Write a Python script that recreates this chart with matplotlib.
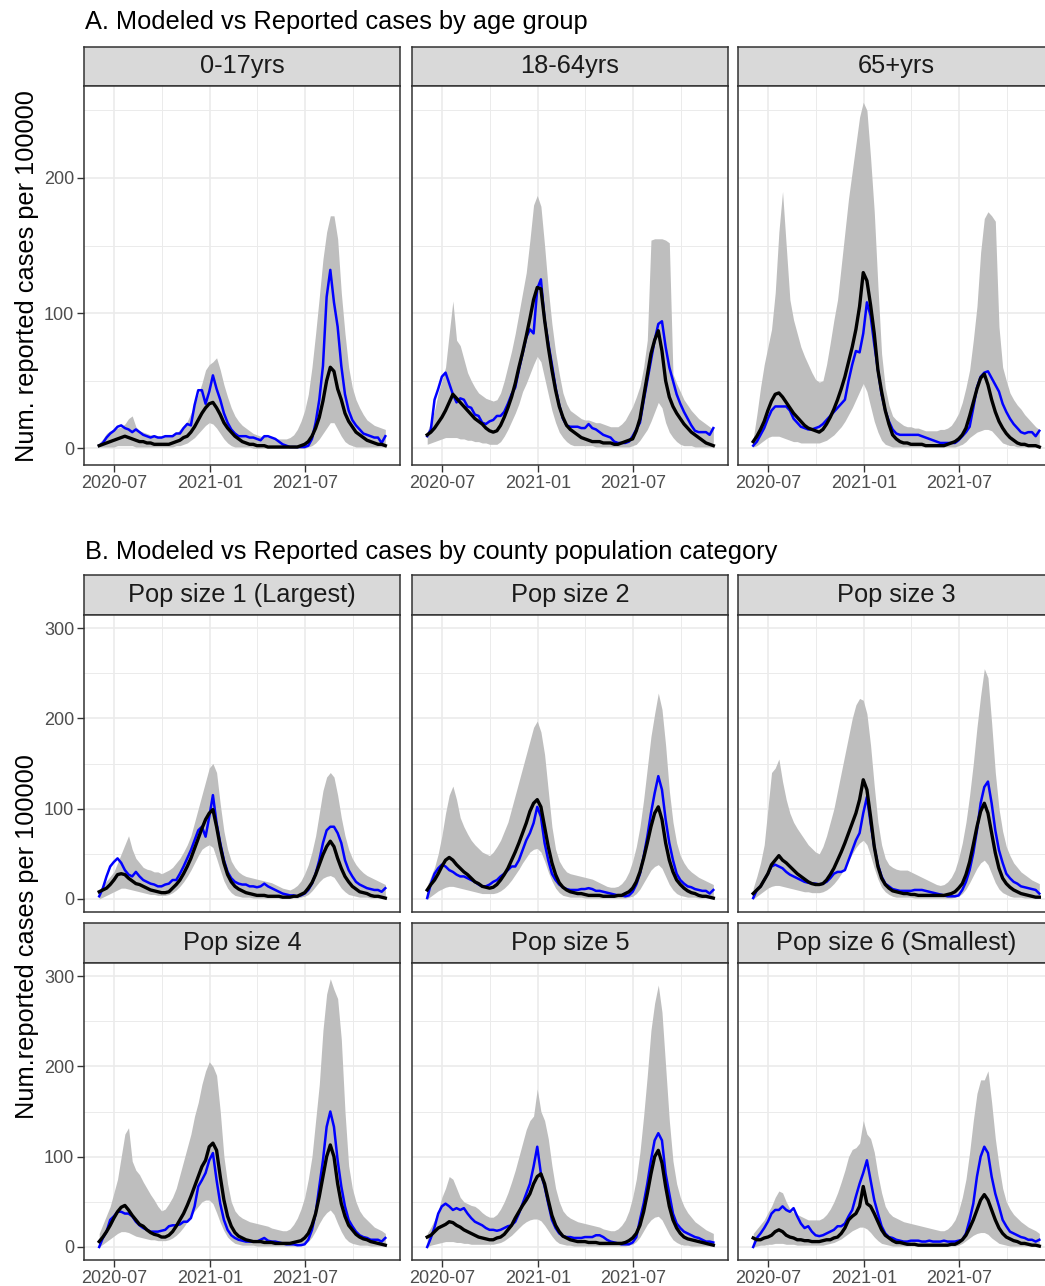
import matplotlib
matplotlib.use("Agg")
import matplotlib.pyplot as plt
import matplotlib.dates as mdates
import pandas as pd

plt.rcParams.update({
    "font.family": ["Liberation Sans", "DejaVu Sans"],
    "font.size": 13,
})

# -----------------------------
# Data (weekly)
# -----------------------------
dates = pd.date_range("2020-06-03", periods=79, freq="7D")

# A. age groups: reported (blue), modeled mean (black), ensemble hi / lo (grey)
rep_0_17 = [2, 4, 8, 11, 13, 16, 17, 15, 14, 12,
            14, 12, 10, 9, 8, 9, 8, 8, 9, 9,
            9, 11, 11, 15, 18, 17, 32, 43, 43, 33,
            42, 54, 44, 36, 26, 19, 14, 11, 9, 9,
            9, 8, 8, 7, 6, 9, 9, 8, 7, 5,
            3, 2, 1, 1, 1, 1, 1, 2, 7, 19,
            36, 61, 112, 132, 108, 90, 61, 40, 28, 21,
            17, 14, 11, 10, 9, 8, 8, 4, 9]
mod_0_17 = [2, 3, 4, 5, 6, 7, 8, 9, 8, 7,
            6, 5, 5, 4, 4, 3, 3, 3, 3, 3,
            4, 5, 6, 8, 9, 12, 16, 21, 26, 30,
            33, 34, 30, 25, 19, 15, 12, 9, 7, 5,
            4, 3, 3, 2, 2, 2, 1, 1, 1, 1,
            1, 1, 1, 1, 1, 2, 3, 5, 9, 15,
            23, 35, 50, 60, 57, 44, 36, 26, 20, 16,
            12, 10, 8, 6, 5, 4, 3, 3, 2]
hi_0_17 = [4, 7, 11, 13, 14, 15, 16, 18, 22, 24,
           16, 13, 12, 11, 10, 10, 9, 9, 9, 9,
           10, 11, 14, 17, 20, 26, 32, 40, 48, 58,
           62, 64, 67, 58, 47, 38, 30, 24, 20, 17,
           15, 13, 11, 10, 9, 9, 8, 8, 7, 7,
           7, 7, 8, 10, 14, 20, 28, 40, 60, 85,
           112, 140, 160, 172, 172, 155, 115, 85, 60, 45,
           36, 30, 25, 21, 19, 17, 16, 15, 14]
lo_0_17 = [1, 1, 1, 1, 1, 2, 2, 2, 2, 2,
           1, 1, 1, 1, 1, 1, 1, 1, 1, 1,
           1, 2, 2, 3, 4, 6, 8, 11, 14, 17,
           19, 18, 15, 11, 7, 4, 2, 1, 1, 1,
           1, 1, 0, 0, 0, 0, 0, 0, 0, 0,
           0, 0, 0, 0, 0, 0, 0, 1, 2, 4,
           7, 11, 15, 19, 19, 14, 9, 5, 3, 2,
           1, 1, 1, 1, 1, 1, 1, 1, 1]

rep_18_64 = [9, 14, 36, 44, 53, 56, 48, 40, 34, 37,
             36, 31, 30, 25, 24, 19, 18, 20, 21, 24,
             24, 27, 33, 40, 45, 58, 70, 82, 88, 85,
             118, 125, 95, 78, 62, 45, 32, 22, 17, 16,
             16, 16, 15, 15, 18, 15, 14, 12, 10, 9,
             8, 5, 4, 4, 4, 5, 9, 14, 19, 35,
             50, 65, 80, 92, 94, 75, 60, 50, 40, 33,
             27, 22, 17, 13, 12, 12, 12, 10, 15]
mod_18_64 = [10, 12, 15, 19, 23, 28, 34, 40, 37, 34,
             31, 28, 25, 22, 20, 18, 15, 13, 12, 13,
             17, 23, 30, 38, 48, 60, 71, 83, 96, 110,
             119, 118, 95, 75, 58, 43, 31, 23, 17, 14,
             12, 10, 8, 7, 6, 5, 5, 5, 4, 4,
             4, 3, 3, 4, 5, 6, 7, 13, 22, 38,
             54, 70, 80, 87, 72, 50, 38, 31, 26, 22,
             18, 15, 12, 10, 8, 6, 4, 3, 2]
hi_18_64 = [12, 20, 28, 41, 50, 60, 85, 109, 80, 76,
            66, 56, 50, 45, 41, 39, 37, 36, 35, 36,
            41, 50, 61, 72, 85, 100, 115, 130, 154, 180,
            187, 179, 150, 118, 92, 71, 55, 41, 33, 28,
            26, 24, 22, 21, 21, 20, 19, 19, 18, 17,
            16, 16, 16, 18, 21, 26, 31, 38, 46, 60,
            80, 154, 155, 155, 155, 154, 152, 55, 48, 42,
            36, 32, 28, 25, 22, 20, 18, 16, 14]
lo_18_64 = [3, 4, 5, 6, 7, 8, 8, 8, 8, 7,
            7, 6, 6, 5, 5, 4, 4, 3, 3, 3,
            5, 9, 14, 20, 26, 33, 42, 48, 55, 62,
            68, 64, 52, 40, 28, 19, 12, 8, 5, 3,
            2, 2, 2, 2, 2, 2, 1, 1, 1, 1,
            1, 1, 1, 1, 1, 1, 2, 3, 6, 10,
            14, 20, 27, 34, 30, 19, 12, 8, 5, 3,
            2, 2, 2, 1, 1, 1, 1, 1, 1]

rep_65 = [2, 5, 10, 15, 22, 28, 31, 31, 31, 31,
          28, 22, 19, 16, 15, 14, 14, 15, 16, 18,
          21, 24, 27, 30, 33, 36, 50, 62, 72, 71,
          85, 108, 98, 77, 58, 40, 28, 20, 14, 11,
          10, 10, 10, 10, 10, 10, 9, 8, 7, 6,
          5, 4, 4, 4, 4, 4, 6, 9, 12, 16,
          30, 45, 53, 56, 57, 52, 47, 42, 33, 27,
          22, 18, 15, 12, 11, 12, 12, 9, 13]
mod_65 = [5, 9, 14, 20, 28, 35, 40, 41, 38, 34,
          30, 26, 23, 20, 17, 15, 14, 13, 12, 14,
          18, 23, 29, 36, 44, 53, 64, 75, 88, 105,
          130, 124, 106, 85, 58, 42, 28, 18, 10, 7,
          5, 4, 4, 3, 3, 3, 3, 2, 2, 2,
          2, 2, 2, 3, 4, 5, 7, 10, 15, 24,
          34, 44, 52, 55, 47, 36, 27, 20, 15, 11,
          8, 6, 4, 3, 3, 2, 2, 2, 1]
hi_65 = [7, 25, 45, 62, 75, 88, 115, 160, 190, 150,
         110, 95, 85, 75, 68, 62, 56, 51, 49, 50,
         62, 78, 95, 110, 135, 160, 185, 205, 225, 245,
         256, 250, 215, 175, 120, 70, 45, 32, 24, 21,
         19, 17, 16, 16, 15, 15, 14, 13, 13, 13,
         13, 14, 14, 15, 17, 21, 26, 34, 45, 58,
         80, 105, 145, 170, 175, 172, 168, 90, 60, 50,
         41, 36, 32, 29, 25, 22, 19, 16, 14]
lo_65 = [1, 2, 4, 6, 8, 9, 9, 9, 8, 7,
         6, 5, 5, 4, 4, 4, 4, 4, 4, 5,
         6, 8, 10, 13, 16, 20, 25, 30, 36, 42,
         48, 42, 31, 20, 12, 6, 3, 2, 1, 1,
         1, 1, 1, 1, 1, 1, 1, 1, 1, 1,
         1, 1, 1, 1, 1, 1, 2, 3, 5, 8,
         10, 12, 13, 14, 14, 13, 10, 7, 4, 3,
         2, 2, 1, 1, 1, 1, 1, 1, 1]

# B. county population categories
rep_pop1 = [3, 12, 25, 36, 41, 45, 40, 32, 27, 25,
            30, 25, 21, 19, 17, 16, 14, 14, 16, 17,
            21, 21, 28, 36, 45, 54, 65, 76, 80, 69,
            91, 115, 84, 62, 43, 30, 23, 19, 17, 16,
            16, 14, 14, 13, 14, 17, 14, 12, 10, 8,
            6, 5, 4, 4, 3, 4, 6, 10, 17, 28,
            43, 62, 76, 80, 80, 73, 62, 43, 32, 25,
            19, 16, 14, 12, 11, 10, 10, 8, 12]
mod_pop1 = [8, 10, 12, 16, 21, 27, 28, 27, 23, 20,
            17, 16, 14, 12, 10, 9, 8, 7, 7, 8,
            12, 16, 21, 28, 36, 45, 56, 67, 78, 88,
            95, 99, 80, 58, 40, 27, 19, 14, 11, 9,
            7, 6, 5, 4, 4, 4, 3, 3, 3, 3,
            2, 2, 2, 3, 3, 5, 7, 12, 18, 27,
            38, 49, 58, 64, 58, 45, 34, 25, 19, 14,
            11, 8, 7, 6, 4, 3, 3, 2, 1]
hi_pop1 = [10, 15, 20, 25, 30, 40, 50, 60, 70, 55,
           45, 40, 35, 33, 32, 30, 30, 28, 30, 32,
           35, 40, 45, 52, 60, 70, 85, 100, 115, 130,
           145, 150, 140, 105, 75, 55, 42, 35, 30, 27,
           25, 24, 23, 22, 21, 20, 19, 18, 16, 14,
           12, 11, 10, 12, 15, 20, 28, 38, 52, 70,
           95, 120, 135, 140, 135, 115, 90, 70, 55, 45,
           38, 33, 29, 26, 24, 22, 20, 18, 16]
lo_pop1 = [0, 2, 4, 6, 8, 10, 12, 12, 11, 10,
           9, 8, 7, 6, 5, 5, 4, 4, 4, 5,
           7, 10, 14, 19, 25, 32, 40, 48, 55, 58,
           60, 57, 45, 32, 20, 12, 7, 4, 3, 2,
           2, 2, 1, 1, 1, 1, 1, 1, 1, 1,
           1, 1, 1, 1, 1, 2, 3, 5, 9, 14,
           19, 23, 25, 26, 24, 18, 12, 8, 5, 4,
           3, 2, 2, 2, 1, 1, 1, 1, 1]

rep_pop2 = [1, 17, 28, 34, 38, 36, 32, 30, 27, 25,
            25, 23, 21, 19, 16, 14, 14, 16, 19, 21,
            25, 28, 32, 36, 36, 43, 54, 65, 73, 84,
            102, 91, 62, 43, 28, 21, 16, 13, 11, 10,
            10, 10, 11, 11, 12, 11, 9, 9, 8, 7,
            6, 5, 4, 4, 3, 4, 8, 16, 28, 47,
            69, 95, 117, 136, 121, 88, 62, 43, 28, 21,
            17, 14, 13, 11, 10, 9, 9, 6, 10]
mod_pop2 = [10, 16, 21, 28, 36, 43, 46, 43, 38, 34,
            30, 27, 23, 19, 17, 14, 13, 12, 13, 16,
            21, 27, 34, 43, 52, 62, 73, 84, 97, 106,
            110, 102, 80, 58, 40, 27, 18, 13, 10, 8,
            7, 6, 6, 5, 4, 4, 4, 4, 3, 3,
            3, 3, 4, 4, 6, 8, 12, 19, 30, 45,
            62, 80, 95, 102, 88, 62, 43, 30, 21, 16,
            12, 9, 7, 6, 4, 3, 3, 2, 1]
hi_pop2 = [15, 25, 35, 50, 70, 95, 115, 125, 110, 90,
           80, 72, 65, 60, 56, 52, 50, 48, 52, 58,
           65, 75, 85, 100, 115, 130, 145, 160, 175, 190,
           197, 185, 160, 120, 80, 55, 42, 35, 30, 28,
           27, 26, 25, 24, 23, 22, 20, 18, 16, 14,
           13, 13, 14, 17, 22, 30, 42, 58, 80, 110,
           145, 180, 205, 228, 210, 170, 120, 85, 62, 48,
           40, 34, 30, 27, 24, 22, 20, 18, 16]
lo_pop2 = [0, 3, 6, 9, 11, 13, 14, 14, 13, 12,
           11, 10, 9, 8, 7, 6, 6, 6, 6, 7,
           9, 12, 16, 21, 27, 33, 40, 46, 52, 55,
           56, 52, 42, 30, 20, 12, 7, 4, 3, 2,
           2, 2, 2, 1, 1, 1, 1, 1, 1, 1,
           1, 1, 1, 1, 1, 2, 3, 6, 11, 18,
           25, 32, 36, 38, 34, 25, 16, 10, 6, 4,
           3, 2, 2, 2, 1, 1, 1, 1, 1]

rep_pop3 = [1, 10, 14, 21, 28, 36, 38, 36, 34, 30,
            27, 25, 23, 21, 19, 18, 17, 17, 16, 17,
            19, 23, 28, 30, 30, 32, 43, 54, 65, 73,
            95, 113, 84, 58, 38, 25, 17, 14, 11, 10,
            9, 9, 9, 9, 10, 10, 10, 9, 8, 7,
            6, 5, 4, 3, 3, 3, 4, 10, 19, 32,
            51, 76, 106, 124, 130, 106, 76, 54, 40, 28,
            23, 19, 17, 14, 13, 12, 11, 10, 6]
mod_pop3 = [6, 10, 14, 21, 28, 38, 43, 48, 43, 40,
            36, 32, 28, 25, 22, 19, 17, 16, 16, 17,
            21, 27, 34, 43, 52, 62, 73, 84, 95, 110,
            132, 121, 91, 58, 36, 23, 16, 12, 9, 8,
            7, 6, 6, 5, 5, 4, 4, 4, 4, 4,
            4, 4, 4, 5, 6, 8, 12, 17, 27, 41,
            60, 80, 97, 106, 95, 73, 51, 34, 23, 17,
            13, 10, 8, 6, 5, 4, 3, 2, 2]
hi_pop3 = [12, 25, 40, 60, 100, 140, 145, 155, 130, 110,
           95, 85, 78, 72, 66, 60, 56, 52, 50, 58,
           70, 85, 100, 120, 140, 160, 180, 200, 215, 222,
           220, 205, 170, 125, 85, 60, 45, 38, 35, 33,
           32, 32, 32, 30, 28, 26, 24, 22, 20, 18,
           16, 15, 16, 19, 24, 32, 45, 62, 85, 115,
           150, 190, 225, 255, 245, 195, 140, 100, 75, 58,
           48, 40, 35, 30, 27, 24, 21, 19, 17]
lo_pop3 = [0, 3, 6, 9, 12, 14, 15, 15, 14, 13,
           12, 11, 10, 9, 8, 8, 7, 7, 7, 8,
           10, 13, 17, 22, 28, 35, 42, 50, 57, 62,
           65, 60, 48, 34, 22, 13, 8, 5, 3, 2,
           2, 2, 2, 2, 1, 1, 1, 1, 1, 1,
           1, 1, 1, 1, 1, 2, 3, 6, 11, 18,
           26, 34, 40, 43, 38, 28, 18, 11, 7, 5,
           3, 2, 2, 2, 1, 1, 1, 1, 1]

rep_pop4 = [0, 10, 17, 30, 34, 39, 39, 37, 37, 34,
            28, 24, 21, 19, 17, 17, 17, 18, 19, 23,
            24, 24, 25, 28, 28, 32, 45, 67, 74, 82,
            96, 104, 74, 48, 30, 19, 13, 10, 8, 7,
            6, 6, 6, 6, 8, 10, 7, 6, 6, 5,
            4, 3, 3, 3, 2, 2, 3, 8, 19, 37,
            67, 96, 133, 150, 133, 96, 67, 45, 30, 23,
            17, 13, 11, 10, 8, 8, 8, 6, 10]
mod_pop4 = [6, 11, 17, 24, 32, 39, 44, 46, 41, 35,
            30, 25, 23, 19, 16, 14, 13, 11, 11, 13,
            17, 23, 30, 37, 46, 56, 67, 78, 89, 96,
            111, 115, 107, 78, 52, 34, 23, 16, 12, 10,
            8, 7, 6, 6, 6, 5, 5, 5, 4, 4,
            4, 4, 4, 5, 6, 7, 10, 15, 24, 37,
            56, 78, 100, 113, 100, 70, 48, 34, 24, 19,
            14, 11, 9, 8, 6, 5, 4, 3, 2]
hi_pop4 = [15, 25, 35, 45, 60, 75, 100, 125, 132, 95,
           85, 80, 72, 65, 58, 52, 45, 40, 42, 48,
           55, 65, 80, 95, 110, 125, 145, 160, 180, 195,
           205, 200, 190, 150, 100, 70, 50, 40, 35, 32,
           30, 28, 27, 26, 25, 24, 23, 21, 20, 19,
           18, 18, 20, 25, 32, 42, 55, 75, 100, 140,
           180, 240, 280, 297, 285, 275, 230, 150, 90, 65,
           50, 40, 34, 30, 26, 22, 20, 18, 15]
lo_pop4 = [0, 3, 6, 9, 12, 15, 17, 17, 16, 14,
           12, 11, 10, 9, 8, 8, 7, 7, 7, 8,
           10, 13, 17, 22, 28, 34, 40, 45, 50, 52,
           52, 48, 38, 27, 18, 11, 7, 4, 3, 2,
           2, 2, 2, 1, 1, 1, 1, 1, 1, 1,
           1, 1, 1, 1, 1, 2, 3, 6, 11, 18,
           26, 33, 38, 41, 36, 26, 17, 10, 6, 4,
           3, 2, 2, 2, 1, 1, 1, 1, 1]

rep_pop5 = [0, 10, 22, 37, 45, 48, 45, 41, 43, 41,
            43, 37, 32, 28, 26, 24, 21, 19, 19, 18,
            19, 21, 23, 24, 28, 37, 48, 59, 70, 89,
            111, 81, 67, 48, 30, 21, 15, 12, 11, 11,
            10, 10, 10, 11, 11, 11, 13, 13, 11, 8,
            6, 5, 4, 3, 3, 3, 5, 11, 30, 48,
            70, 96, 118, 126, 118, 81, 59, 37, 26, 21,
            17, 15, 13, 11, 10, 8, 6, 6, 5]
mod_pop5 = [11, 13, 17, 21, 23, 25, 28, 27, 24, 22,
            19, 17, 15, 13, 11, 10, 9, 8, 8, 10,
            11, 14, 19, 24, 32, 39, 46, 52, 59, 70,
            78, 81, 70, 52, 35, 24, 17, 12, 10, 8,
            7, 6, 6, 6, 5, 5, 5, 4, 4, 4,
            4, 4, 4, 4, 5, 7, 10, 15, 24, 39,
            59, 81, 100, 107, 93, 67, 45, 30, 21, 15,
            11, 9, 8, 7, 6, 5, 4, 3, 2]
hi_pop5 = [15, 22, 30, 40, 55, 65, 78, 75, 65, 55,
           50, 48, 46, 45, 42, 38, 35, 33, 33, 36,
           42, 50, 60, 72, 85, 100, 115, 130, 140, 145,
           175, 150, 140, 120, 90, 65, 50, 40, 35, 32,
           30, 28, 27, 26, 25, 24, 23, 22, 20, 19,
           18, 18, 20, 24, 30, 40, 55, 75, 105, 145,
           190, 240, 270, 290, 260, 200, 140, 95, 70, 55,
           45, 38, 33, 28, 25, 22, 19, 17, 15]
lo_pop5 = [0, 2, 3, 4, 5, 6, 6, 6, 5, 5,
           4, 4, 3, 3, 3, 3, 3, 3, 3, 4,
           5, 7, 10, 13, 17, 21, 25, 28, 30, 31,
           31, 29, 24, 18, 12, 7, 4, 3, 2, 2,
           1, 1, 1, 1, 1, 1, 1, 1, 1, 1,
           1, 1, 1, 1, 1, 2, 3, 6, 11, 18,
           25, 30, 33, 34, 30, 22, 14, 8, 5, 3,
           2, 2, 1, 1, 1, 1, 1, 1, 1]

rep_pop6 = [0, 10, 15, 21, 28, 37, 41, 41, 45, 41,
            39, 43, 34, 26, 21, 23, 17, 13, 12, 13,
            15, 17, 19, 23, 23, 26, 34, 41, 56, 70,
            82, 96, 74, 52, 37, 23, 15, 11, 10, 8,
            7, 6, 6, 7, 7, 7, 6, 6, 7, 6,
            6, 6, 7, 6, 6, 6, 7, 8, 15, 30,
            48, 78, 100, 111, 104, 78, 59, 45, 30, 23,
            17, 15, 13, 11, 10, 8, 8, 6, 8]
mod_pop6 = [10, 8, 8, 10, 11, 13, 17, 19, 17, 13,
            11, 10, 8, 8, 7, 7, 6, 6, 6, 7,
            8, 8, 10, 11, 15, 21, 30, 34, 37, 45,
            67, 48, 45, 37, 28, 19, 13, 10, 7, 5,
            5, 4, 3, 3, 3, 2, 2, 2, 2, 2,
            2, 2, 2, 2, 3, 3, 5, 8, 13, 21,
            30, 41, 52, 58, 52, 41, 30, 21, 15, 11,
            9, 7, 6, 4, 4, 3, 2, 2, 1]
hi_pop6 = [15, 20, 25, 30, 38, 45, 55, 62, 60, 50,
           42, 38, 36, 34, 32, 30, 30, 30, 30, 32,
           36, 42, 50, 60, 72, 85, 100, 108, 110, 115,
           140, 125, 120, 105, 80, 60, 45, 38, 34, 32,
           30, 28, 27, 26, 25, 24, 23, 22, 21, 20,
           19, 18, 18, 20, 24, 30, 40, 55, 75, 105,
           140, 170, 185, 185, 195, 160, 120, 90, 65, 50,
           42, 36, 32, 28, 25, 22, 20, 18, 15]
lo_pop6 = [0, 1, 2, 2, 3, 3, 4, 4, 4, 3,
           3, 3, 2, 2, 2, 2, 2, 2, 2, 2,
           3, 4, 5, 7, 9, 12, 15, 18, 20, 22,
           22, 20, 16, 11, 7, 4, 3, 2, 1, 1,
           1, 1, 1, 1, 1, 1, 1, 1, 1, 1,
           1, 1, 1, 1, 1, 1, 2, 4, 7, 10,
           13, 15, 16, 16, 14, 10, 7, 4, 3, 2,
           1, 1, 1, 1, 1, 1, 1, 1, 1]

age_labels = ["0-17yrs", "18-64yrs", "65+yrs"]
pop_labels = ["Pop size 1 (Largest)", "Pop size 2", "Pop size 3",
              "Pop size 4", "Pop size 5", "Pop size 6 (Smallest)"]

# -----------------------------
# Layout (pixels)
# -----------------------------
W, H = 1045, 1286
fig = plt.figure(figsize=(W / 100, H / 100), dpi=100)
fig.patch.set_facecolor("white")

col_x = [84, 412, 738]
panel_w = 316

grey_c = "#BEBEBE"
border_c = "#333333"
grid_c = "#EBEBEB"
strip_c = "#D9D9D9"

x_lim = mdates.date2num([pd.Timestamp("2020-05-05"), pd.Timestamp("2021-12-29")])
major_x = mdates.date2num(pd.to_datetime(["2020-07-01", "2021-01-01", "2021-07-01"]))
minor_x = mdates.date2num(pd.to_datetime(["2020-10-01", "2021-04-01", "2021-10-01"]))


def px_axes(x0, y0, x1, y1):
    return fig.add_axes([x0 / W, 1 - y1 / H, (x1 - x0) / W, (y1 - y0) / H])


def add_strip(x0, y0, x1, y1, label):
    s = px_axes(x0, y0, x1, y1)
    s.set_facecolor(strip_c)
    s.set_xticks([])
    s.set_yticks([])
    for sp in s.spines.values():
        sp.set_color(border_c)
        sp.set_linewidth(1.1)
    s.text(0.5, 0.5, label, ha="center", va="center", fontsize=18.3,
           color="#1A1A1A", transform=s.transAxes)


def add_panel(x0, y0, x1, y1, rep, mod, hi, lo, ylim, yt, yminor,
              show_x, show_y):
    ax = px_axes(x0, y0, x1, y1)
    ax.set_facecolor("white")
    ax.set_xlim(*x_lim)
    ax.set_ylim(*ylim)
    ax.set_xticks(major_x)
    ax.set_xticks(minor_x, minor=True)
    ax.set_yticks(yt)
    ax.set_yticks(yminor, minor=True)
    ax.grid(True, which="major", color=grid_c, linewidth=1.2, zorder=0)
    ax.grid(True, which="minor", color=grid_c, linewidth=0.7, zorder=0)
    ax.set_axisbelow(True)

    ax.fill_between(dates, lo, hi, color=grey_c, linewidth=0, zorder=2)
    ax.plot(dates, rep, color="#0000FF", linewidth=1.8, zorder=3)
    ax.plot(dates, mod, color="black", linewidth=2.4, zorder=4)

    for sp in ax.spines.values():
        sp.set_color(border_c)
        sp.set_linewidth(1.1)
    ax.tick_params(which="both", length=0)
    ax.tick_params(which="major", colors=border_c, labelcolor="#4D4D4D",
                   labelsize=13, width=1.0, pad=2)
    if show_x:
        ax.xaxis.set_major_formatter(mdates.DateFormatter("%Y-%m"))
        ax.tick_params(axis="x", which="major", length=5)
    else:
        ax.tick_params(axis="x", labelbottom=False)
    if show_y:
        ax.tick_params(axis="y", which="major", length=5)
    else:
        ax.tick_params(axis="y", labelleft=False)
    return ax


# -----------------------------
# A. age groups
# -----------------------------
fig.text(85 / W, 1 - 22 / H, "A. Modeled vs Reported cases by age group",
         ha="left", va="center", fontsize=18.3, color="black")

age_series = [
    (rep_0_17, mod_0_17, hi_0_17, lo_0_17),
    (rep_18_64, mod_18_64, hi_18_64, lo_18_64),
    (rep_65, mod_65, hi_65, lo_65),
]
for i, (lab, (rep, mod, hi, lo)) in enumerate(zip(age_labels, age_series)):
    x0 = col_x[i]
    add_strip(x0, 47, x0 + panel_w, 86, lab)
    add_panel(x0, 86, x0 + panel_w, 465, rep, mod, hi, lo,
              ylim=(-12.3, 268), yt=[0, 100, 200], yminor=[50, 150, 250],
              show_x=True, show_y=(i == 0))

fig.text(27 / W, 1 - 276 / H, "Num. reported cases per 100000",
         rotation=90, ha="center", va="center", fontsize=18.3)

# -----------------------------
# B. county population category
# -----------------------------
fig.text(85 / W, 1 - 552 / H,
         "B. Modeled vs Reported cases by county population category",
         ha="left", va="center", fontsize=18.3, color="black")

pop_series = [
    (rep_pop1, mod_pop1, hi_pop1, lo_pop1),
    (rep_pop2, mod_pop2, hi_pop2, lo_pop2),
    (rep_pop3, mod_pop3, hi_pop3, lo_pop3),
    (rep_pop4, mod_pop4, hi_pop4, lo_pop4),
    (rep_pop5, mod_pop5, hi_pop5, lo_pop5),
    (rep_pop6, mod_pop6, hi_pop6, lo_pop6),
]
row_y = [(575, 615, 912), (923, 963, 1260)]
for j, (lab, (rep, mod, hi, lo)) in enumerate(zip(pop_labels, pop_series)):
    r, c = divmod(j, 3)
    x0 = col_x[c]
    s0, p0, p1 = row_y[r]
    add_strip(x0, s0, x0 + panel_w, p0, lab)
    add_panel(x0, p0, x0 + panel_w, p1, rep, mod, hi, lo,
              ylim=(-14.4, 314.4), yt=[0, 100, 200, 300],
              yminor=[50, 150, 250],
              show_x=(r == 1), show_y=(c == 0))

fig.text(27 / W, 1 - 937 / H, "Num.reported cases per 100000",
         rotation=90, ha="center", va="center", fontsize=18.3)

fig.savefig("out.png", dpi=100)
